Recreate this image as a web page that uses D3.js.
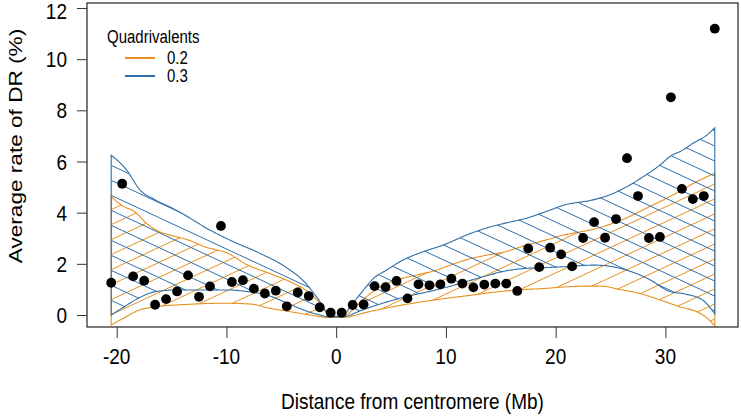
<!DOCTYPE html>
<html><head><meta charset="utf-8">
<script src="https://cdn.jsdelivr.net/npm/d3@7"></script>
<style>body{margin:0;background:#fff}svg{display:block}text{font-family:"Liberation Sans",Arial,sans-serif;fill:#000}</style>
</head><body><svg id="chart" width="741" height="418"></svg>
<script>
// ---- data ----
const pointX = [-20.5,-19.5,-18.5,-17.5,-16.5,-15.5,-14.5,-13.5,-12.5,-11.5,-10.5,-9.5,-8.5,-7.5,-6.5,-5.5,-4.5,-3.5,-2.5,-1.5,-0.5,
  0.5,1.5,2.5,3.5,4.5,5.5,6.5,7.5,8.5,9.5,10.5,11.5,12.5,13.5,14.5,15.5,16.5,17.5,18.5,19.5,20.5,21.5,22.5,23.5,24.5,25.5,26.5,27.5,28.5,29.5,30.5,31.5,32.5,33.5,34.5];
const pointY = [1.26,5.13,1.51,1.34,0.40,0.62,0.92,1.55,0.71,1.12,3.48,1.29,1.36,1.03,0.84,0.95,0.34,0.88,0.74,0.30,0.09,
  0.09,0.39,0.41,1.13,1.09,1.33,0.65,1.20,1.16,1.20,1.42,1.23,1.08,1.19,1.23,1.23,0.94,2.60,1.87,2.63,2.37,1.90,3.01,3.63,3.02,3.75,6.13,4.65,3.01,3.05,8.51,4.93,4.53,4.65,11.19];

// band 0.3 (blue)
const hiX03 = [-20.5,-19.1,-17.9,-16.5,-14.9,-13.3,-11.8,-9.7,-7,-4.7,-2.8,-1.6,-0.5,0.5,1.5,2.5,3.4,4.6,6.1,7.9,9.8,11.9,13.7,15.5,17.4,19.1,20.8,23.4,24.9,26.5,28,29.5,30.4,31.6,32.5,33.8,34.5];
const hiY03 = [6.25,5.67,4.9,4.5,4.17,3.78,3.39,2.93,2.42,1.9,1.25,0.6,-0.05,-0.05,0.46,0.98,1.43,1.76,2.15,2.47,2.74,3.13,3.4,3.6,3.79,4.04,4.3,4.5,4.69,5.02,5.41,5.86,6.19,6.45,6.71,7.04,7.32];
const loX03 = [-20.5,-19.5,-18,-16.5,-14.5,-10,-8,-6.3,-4.5,-3,-1.5,-0.5,0.5,2.4,4.3,6.4,8.6,10.2,11.8,13.6,15.4,17.2,19,20.9,23.5,25,26.5,28.5,30.4,31.8,33.4,34.5];
const loY03 = [0.0,0.27,0.66,0.91,0.98,0.98,0.91,0.78,0.47,0.2,0.0,-0.08,-0.08,0.2,0.47,0.72,0.93,1.1,1.3,1.52,1.72,1.82,1.85,1.89,1.95,1.9,1.75,1.4,0.92,0.82,0.58,0.05];
// band 0.2 (orange)
const hiX02 = [-20.5,-19.4,-18.4,-17.2,-16.4,-14.5,-13.6,-12,-9.8,-8.2,-6.1,-3.9,-2.4,-1.2,-0.5,0.5,2.4,4,5.5,7.3,9.2,10.4,11.8,13.6,15.4,16.8,19.1,20.8,23.5,26,28.3,30.5,32.8,34.5];
const hiY02 = [4.62,4.25,4.05,3.55,3.32,3.05,2.95,2.67,2.4,1.98,1.63,1.24,0.85,0.32,-0.07,-0.07,0.59,1.1,1.37,1.56,1.76,1.95,2.15,2.33,2.47,2.66,2.93,3.13,3.36,3.71,4.18,4.65,5.2,5.54];
const loX02 = [-20.5,-19.4,-17.9,-16.4,-13.3,-10.3,-7.85,-6,-4.2,-2.4,-0.5,0.5,3,5.5,7.9,10,12.4,14.8,16.6,19.1,20.9,23.4,24.4,25.8,27.5,29.5,31.4,32.9,33.8,34.5];
const loY02 = [-0.39,-0.13,0.2,0.32,0.42,0.46,0.43,0.26,0.13,0.0,-0.1,-0.1,0.13,0.35,0.52,0.65,0.78,0.91,0.98,1.04,1.1,1.13,1.12,1.0,0.86,0.59,0.31,0.12,-0.12,-0.43];

const xTicks = [-20,-10,0,10,20,30];
const yTicks = [0,2,4,6,8,10,12];
const legendTitle = "Quadrivalents";
const legendLabels = ["0.2","0.3"];
const xTitle = "Distance from centromere (Mb)";
const yTitle = "Average rate of DR (%)";

// ---- drawing ----
const ORANGE = "#E8911F", BLUE = "#2F6FAA";
const SY = 1.19; // vertical stretch of glyphs seen in the reference
const svg = d3.select("#chart");
const L=87, R=738, T=3, B=327;
const x = d3.scaleLinear().domain([-22.706,36.615]).range([L,R]);
const y = d3.scaleLinear().domain([-0.469,12.195]).range([B,T]);

function txt(px, py, str, size, anchor, rot){
  return svg.append("text")
    .attr("transform",`translate(${px},${py}) scale(1,${SY})`+(rot?` rotate(${rot})`:""))
    .attr("text-anchor",anchor||"start").attr("font-size",size).text(str);
}

function bandPath(hx,hy,lx,ly){
  const up = hx.map((v,i)=>[x(v),y(hy[i])]);
  const lo = lx.map((v,i)=>[x(v),y(ly[i])]);
  const line = d3.line().curve(d3.curveMonotoneX);
  const sample = (pts)=>{
    const p = document.createElementNS("http://www.w3.org/2000/svg","path");
    p.setAttribute("d", line(pts));
    const len = p.getTotalLength(); const out=[];
    for(let s=0;s<=len;s+=1) { const q=p.getPointAtLength(s); out.push([q.x,q.y]); }
    const q=p.getPointAtLength(len); out.push([q.x,q.y]);
    return out;
  };
  const a = sample(up), b = sample(lo).reverse();
  return "M"+a.concat(b).map(p=>p[0].toFixed(2)+","+p[1].toFixed(2)).join("L")+"Z";
}

const defs = svg.append("defs");
const slope = 0.465, gap = 15;
function drawBand(id, hx,hy,lx,ly,color,dir){
  const d = bandPath(hx,hy,lx,ly);
  defs.append("clipPath").attr("id",id).append("path").attr("d",d);
  const g = svg.append("g").attr("clip-path","url(#"+id+")");
  const x0=x(0), y0=y(0);
  for(let k=-80;k<=80;k++){
    const c = y0 + gap*k;
    const ya = c + dir*slope*(L-x0), yb = c + dir*slope*(R-x0);
    g.append("line").attr("x1",L).attr("y1",ya).attr("x2",R).attr("y2",yb)
      .attr("stroke",color).attr("stroke-width",1);
  }
  svg.append("path").attr("d",d).attr("fill","none").attr("stroke",color).attr("stroke-width",1.1);
}
drawBand("c02",hiX02,hiY02,loX02,loY02,ORANGE,-1);
drawBand("c03",hiX03,hiY03,loX03,loY03,BLUE,1);

// points
svg.append("g").selectAll("circle").data(pointX).join("circle")
  .attr("cx",(d)=>x(d)).attr("cy",(d,i)=>y(pointY[i])).attr("r",4.9).attr("fill","#000");

// box
svg.append("rect").attr("x",L).attr("y",T).attr("width",R-L).attr("height",B-T)
  .attr("fill","none").attr("stroke","#222").attr("stroke-width",1.2);

// axes (ticks via d3 axis, labels drawn with the stretch)
const xa = svg.append("g").attr("transform",`translate(0,${B})`)
  .call(d3.axisBottom(x).tickValues(xTicks).tickSize(11).tickFormat(""));
const ya = svg.append("g").attr("transform",`translate(${L},0)`)
  .call(d3.axisLeft(y).tickValues(yTicks).tickSize(10).tickFormat(""));
[xa,ya].forEach(g=>{ g.select(".domain").remove(); g.selectAll("line").attr("stroke","#333"); });
const fsT = 19;
xTicks.forEach(v=>txt(x(v), 356 + 0.36*fsT*SY, String(v), fsT, "middle"));
yTicks.forEach(v=>txt(67, Math.max(y(v),10.5) + 0.36*fsT*SY, String(v), fsT, "end"));

txt((L+R)/2, 401 + 0.36*19*SY, xTitle, 19, "middle");
txt(15 + 0.36*19, 146, yTitle, 19, "middle", -90);

// legend
const lgY0 = 58;
txt(107, 37 + 0.36*15*SY, legendTitle, 15, "start");
[ORANGE,BLUE].forEach((c,i)=>{
  svg.append("line").attr("x1",125).attr("x2",155).attr("y1",lgY0+18*i).attr("y2",lgY0+18*i).attr("stroke",c).attr("stroke-width",2);
  txt(167, lgY0+18*i + 0.36*15*SY, legendLabels[i], 15, "start");
});
</script></body></html>
